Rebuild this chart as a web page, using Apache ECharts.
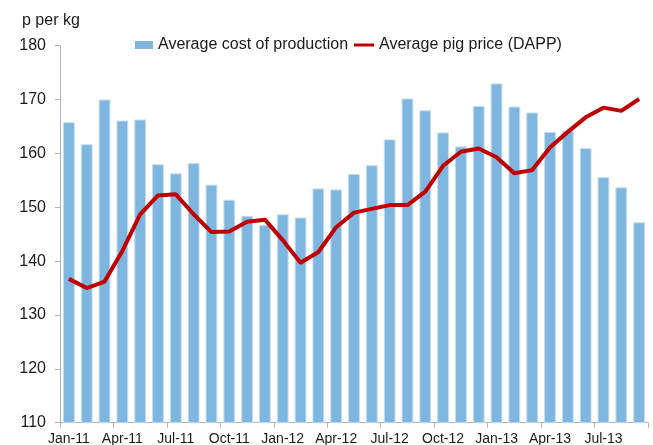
<!DOCTYPE html>
<html>
<head>
<meta charset="utf-8">
<script src="https://cdn.jsdelivr.net/npm/echarts@6/dist/echarts.min.js"></script>
<style>html,body{margin:0;padding:0;background:#fff}#c{width:653px;height:445px}</style>
</head>
<body>
<div id="c"></div>
<script>
var months = ['Jan-11','Feb-11','Mar-11','Apr-11','May-11','Jun-11','Jul-11','Aug-11','Sep-11','Oct-11','Nov-11','Dec-11',
              'Jan-12','Feb-12','Mar-12','Apr-12','May-12','Jun-12','Jul-12','Aug-12','Sep-12','Oct-12','Nov-12','Dec-12',
              'Jan-13','Feb-13','Mar-13','Apr-13','May-13','Jun-13','Jul-13','Aug-13','Sep-13'];
var costOfProduction = [165.8,161.7,170.0,166.1,166.3,158.0,156.3,158.2,154.2,151.4,148.4,146.7,
                        148.7,148.1,153.5,153.3,156.2,157.8,162.6,170.2,168.0,163.9,161.3,168.8,
                        173.0,168.7,167.6,164.0,164.2,161.0,155.6,153.7,147.2];
var pigPrice = [136.7,135.0,136.2,141.9,148.7,152.2,152.4,148.7,145.4,145.5,147.3,147.7,
                143.9,139.7,141.7,146.3,149.0,149.7,150.4,150.4,152.9,157.7,160.3,160.9,
                159.3,156.3,156.9,161.1,164.0,166.7,168.5,167.9,170.1];
var yTicks = {min:110, max:180, interval:10};
var costName = 'Average cost of production';
var priceName = 'Average pig price (DAPP)';

var chart = echarts.init(document.getElementById('c'), null, {renderer:'canvas'});
var font = 'Arial, "Liberation Sans", sans-serif';
chart.setOption({
  animation:false,
  backgroundColor:'#ffffff',
  title:{text:'p per kg', left:17, top:8, textStyle:{fontFamily:font, fontSize:16, fontWeight:'normal', color:'#1a1a1a'}},
  legend:[
    {data:[costName], left:130, top:32, itemWidth:18, itemHeight:8, icon:'rect', itemGap:0,
     itemStyle:{borderWidth:0},
     textStyle:{fontFamily:font, fontSize:16, color:'#1a1a1a'}},
    {data:[priceName], left:349, top:32, itemWidth:20, itemHeight:3, icon:'rect', itemGap:0,
     itemStyle:{borderWidth:0},
     textStyle:{fontFamily:font, fontSize:16, color:'#1a1a1a'}}
  ],
  grid:{left:60, right:5, top:45.7, bottom:22.3, containLabel:false, outerBoundsMode:'none'},
  xAxis:{
    type:'category', data:months, boundaryGap:true,
    axisLine:{lineStyle:{color:'#b3b3b3', width:1}},
    axisTick:{show:true, interval:2, length:5, lineStyle:{color:'#b3b3b3'}},
    axisLabel:{interval:2, margin:9, fontFamily:font, fontSize:14, color:'#1a1a1a'},
    splitLine:{show:false}
  },
  yAxis:{
    type:'value', min:yTicks.min, max:yTicks.max, interval:yTicks.interval,
    axisLine:{show:true, lineStyle:{color:'#b3b3b3', width:1}},
    axisTick:{show:true, length:5, lineStyle:{color:'#b3b3b3'}},
    axisLabel:{margin:14, fontFamily:font, fontSize:16, color:'#1a1a1a'},
    splitLine:{show:false}
  },
  series:[
    {name:costName, type:'bar', data:costOfProduction, barWidth:'66%',
     itemStyle:{color:'#7EB6DF', borderColor:'#C4DDF1', borderWidth:1}},
    {name:priceName, type:'line', data:pigPrice, showSymbol:false, symbol:'none', smooth:false,
     lineStyle:{color:'#C00000', width:4}, itemStyle:{color:'#C00000'}}
  ]
});
</script>
</body>
</html>
